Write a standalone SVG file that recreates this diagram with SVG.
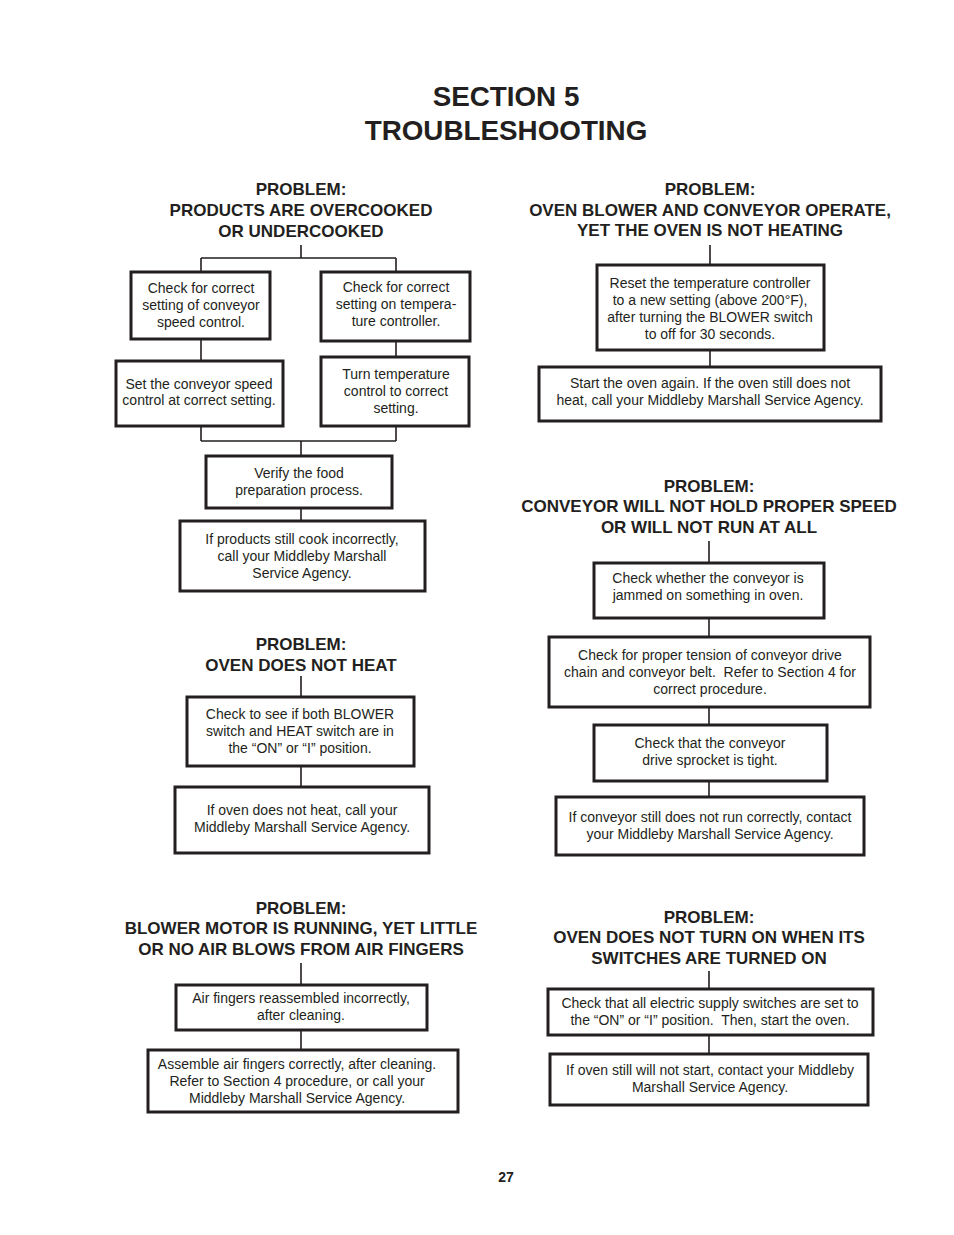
<svg xmlns="http://www.w3.org/2000/svg" width="954" height="1235" viewBox="0 0 954 1235">
<style>
.bg{fill:#fff}
.box{fill:#fff;stroke:#231f20;stroke-width:3}
.c{stroke:#231f20;stroke-width:1.6;fill:none}
.t{font-family:"Liberation Sans",Arial,sans-serif;font-size:14px;fill:#231f20;text-anchor:middle}
.pre{white-space:pre}
.h{font-family:"Liberation Sans",Arial,sans-serif;font-size:17px;font-weight:bold;fill:#231f20;text-anchor:middle}
.title{font-family:"Liberation Sans",Arial,sans-serif;font-size:27.8px;font-weight:bold;fill:#231f20;text-anchor:middle}
.pn{font-family:"Liberation Sans",Arial,sans-serif;font-size:14px;font-weight:bold;fill:#231f20;text-anchor:middle}
</style>
<rect class="bg" x="0" y="0" width="954" height="1235"/>
<g id="title">
<text class="title" x="506" y="106">SECTION 5</text>
<text class="title" x="506" y="140">TROUBLESHOOTING</text>
</g>
<g id="connectors">
<path class="c" d="M301 245V258M201 258H396M201 258V272M396 258V272M201 339V361M396 341V357M201 426V441M396 426V441M201 441H396M301 441V456M301 508V521"/>
<path class="c" d="M301 676V697M301 766V787"/>
<path class="c" d="M301 963V985M301 1030V1050"/>
<path class="c" d="M710 245V265M710 350V367"/>
<path class="c" d="M709 541V563M709 618V637M709 707V725M709 781V797"/>
<path class="c" d="M709 971V989M709 1035V1054"/>
</g>
<g id="h1">
<text class="h" x="301" y="195">PROBLEM:</text>
<text class="h" x="301" y="216">PRODUCTS ARE OVERCOOKED</text>
<text class="h" x="301" y="237">OR UNDERCOOKED</text>
</g>
<g id="b1"><rect class="box" x="131" y="272" width="139" height="67"/>
<text class="t" x="201" y="293">Check for correct</text><text class="t" x="201" y="310">setting of conveyor</text><text class="t" x="201" y="327">speed control.</text></g>
<g id="b2"><rect class="box" x="321" y="272" width="149" height="69"/>
<text class="t" x="396" y="292">Check for correct</text><text class="t" x="396" y="309">setting on tempera-</text><text class="t" x="396" y="326">ture controller.</text></g>
<g id="b3"><rect class="box" x="116" y="361" width="167" height="65"/>
<text class="t" x="199" y="389">Set the conveyor speed</text><text class="t" x="199" y="405">control at correct setting.</text></g>
<g id="b4"><rect class="box" x="321" y="357" width="148" height="69"/>
<text class="t" x="396" y="379">Turn temperature</text><text class="t" x="396" y="396">control to correct</text><text class="t" x="396" y="413">setting.</text></g>
<g id="b5"><rect class="box" x="206" y="456" width="186" height="52"/>
<text class="t" x="299" y="478">Verify the food</text><text class="t" x="299" y="495">preparation process.</text></g>
<g id="b6"><rect class="box" x="180" y="521" width="245" height="70"/>
<text class="t" x="302" y="544">If products still cook incorrectly,</text><text class="t" x="302" y="561">call your Middleby Marshall</text><text class="t" x="302" y="578">Service Agency.</text></g>

<g id="h2">
<text class="h" x="301" y="650">PROBLEM:</text>
<text class="h" x="301" y="671">OVEN DOES NOT HEAT</text>
</g>
<g id="b7"><rect class="box" x="187" y="697" width="227" height="69"/>
<text class="t" x="300" y="719">Check to see if both BLOWER</text><text class="t" x="300" y="736">switch and HEAT switch are in</text><text class="t" x="300" y="753">the “ON” or “I” position.</text></g>
<g id="b8"><rect class="box" x="175" y="787" width="254" height="66"/>
<text class="t" x="302" y="815">If oven does not heat, call your</text><text class="t" x="302" y="832">Middleby Marshall Service Agency.</text></g>

<g id="h3">
<text class="h" x="301" y="914">PROBLEM:</text>
<text class="h" x="301" y="934">BLOWER MOTOR IS RUNNING, YET LITTLE</text>
<text class="h" x="301" y="955">OR NO AIR BLOWS FROM AIR FINGERS</text>
</g>
<g id="b9"><rect class="box" x="176" y="985" width="251" height="45"/>
<text class="t" x="301" y="1003">Air fingers reassembled incorrectly,</text><text class="t" x="301" y="1020">after cleaning.</text></g>
<g id="b10"><rect class="box" x="148" y="1050" width="310" height="62"/>
<text class="t" x="297" y="1069">Assemble air fingers correctly, after cleaning.</text><text class="t" x="297" y="1086">Refer to Section 4 procedure, or call your</text><text class="t" x="297" y="1103">Middleby Marshall Service Agency.</text></g>

<g id="h4">
<text class="h" x="710" y="195">PROBLEM:</text>
<text class="h" x="710" y="216">OVEN BLOWER AND CONVEYOR OPERATE,</text>
<text class="h" x="710" y="236">YET THE OVEN IS NOT HEATING</text>
</g>
<g id="r1"><rect class="box" x="597" y="265" width="227" height="85"/>
<text class="t" x="710" y="288">Reset the temperature controller</text><text class="t" x="710" y="305">to a new setting (above 200°F),</text><text class="t" x="710" y="322">after turning the BLOWER switch</text><text class="t" x="710" y="339">to off for 30 seconds.</text></g>
<g id="r2"><rect class="box" x="539" y="367" width="342" height="54"/>
<text class="t" x="710" y="388">Start the oven again. If the oven still does not</text><text class="t" x="710" y="405">heat, call your Middleby Marshall Service Agency.</text></g>

<g id="h5">
<text class="h" x="709" y="492">PROBLEM:</text>
<text class="h" x="709" y="512">CONVEYOR WILL NOT HOLD PROPER SPEED</text>
<text class="h" x="709" y="533">OR WILL NOT RUN AT ALL</text>
</g>
<g id="r3"><rect class="box" x="594" y="563" width="230" height="55"/>
<text class="t" x="708" y="583">Check whether the conveyor is</text><text class="t" x="708" y="600">jammed on something in oven.</text></g>
<g id="r4"><rect class="box" x="549" y="637" width="321" height="70"/>
<text class="t" x="710" y="660">Check for proper tension of conveyor drive</text><text class="t pre" x="710" y="677">chain and conveyor belt.  Refer to Section 4 for</text><text class="t" x="710" y="694">correct procedure.</text></g>
<g id="r5"><rect class="box" x="594" y="725" width="233" height="56"/>
<text class="t" x="710" y="748">Check that the conveyor</text><text class="t" x="710" y="765">drive sprocket is tight.</text></g>
<g id="r6"><rect class="box" x="556" y="797" width="308" height="58"/>
<text class="t" x="710" y="822">If conveyor still does not run correctly, contact</text><text class="t" x="710" y="839">your Middleby Marshall Service Agency.</text></g>

<g id="h6">
<text class="h" x="709" y="923">PROBLEM:</text>
<text class="h" x="709" y="943">OVEN DOES NOT TURN ON WHEN ITS</text>
<text class="h" x="709" y="964">SWITCHES ARE TURNED ON</text>
</g>
<g id="r7"><rect class="box" x="548" y="989" width="325" height="46"/>
<text class="t" x="710" y="1008">Check that all electric supply switches are set to</text><text class="t pre" x="710" y="1025">the “ON” or “I” position.  Then, start the oven.</text></g>
<g id="r8"><rect class="box" x="550" y="1054" width="318" height="51"/>
<text class="t" x="710" y="1075">If oven still will not start, contact your Middleby</text><text class="t" x="710" y="1092">Marshall Service Agency.</text></g>

<g id="page"><text class="pn" x="506" y="1182">27</text></g>
</svg>
